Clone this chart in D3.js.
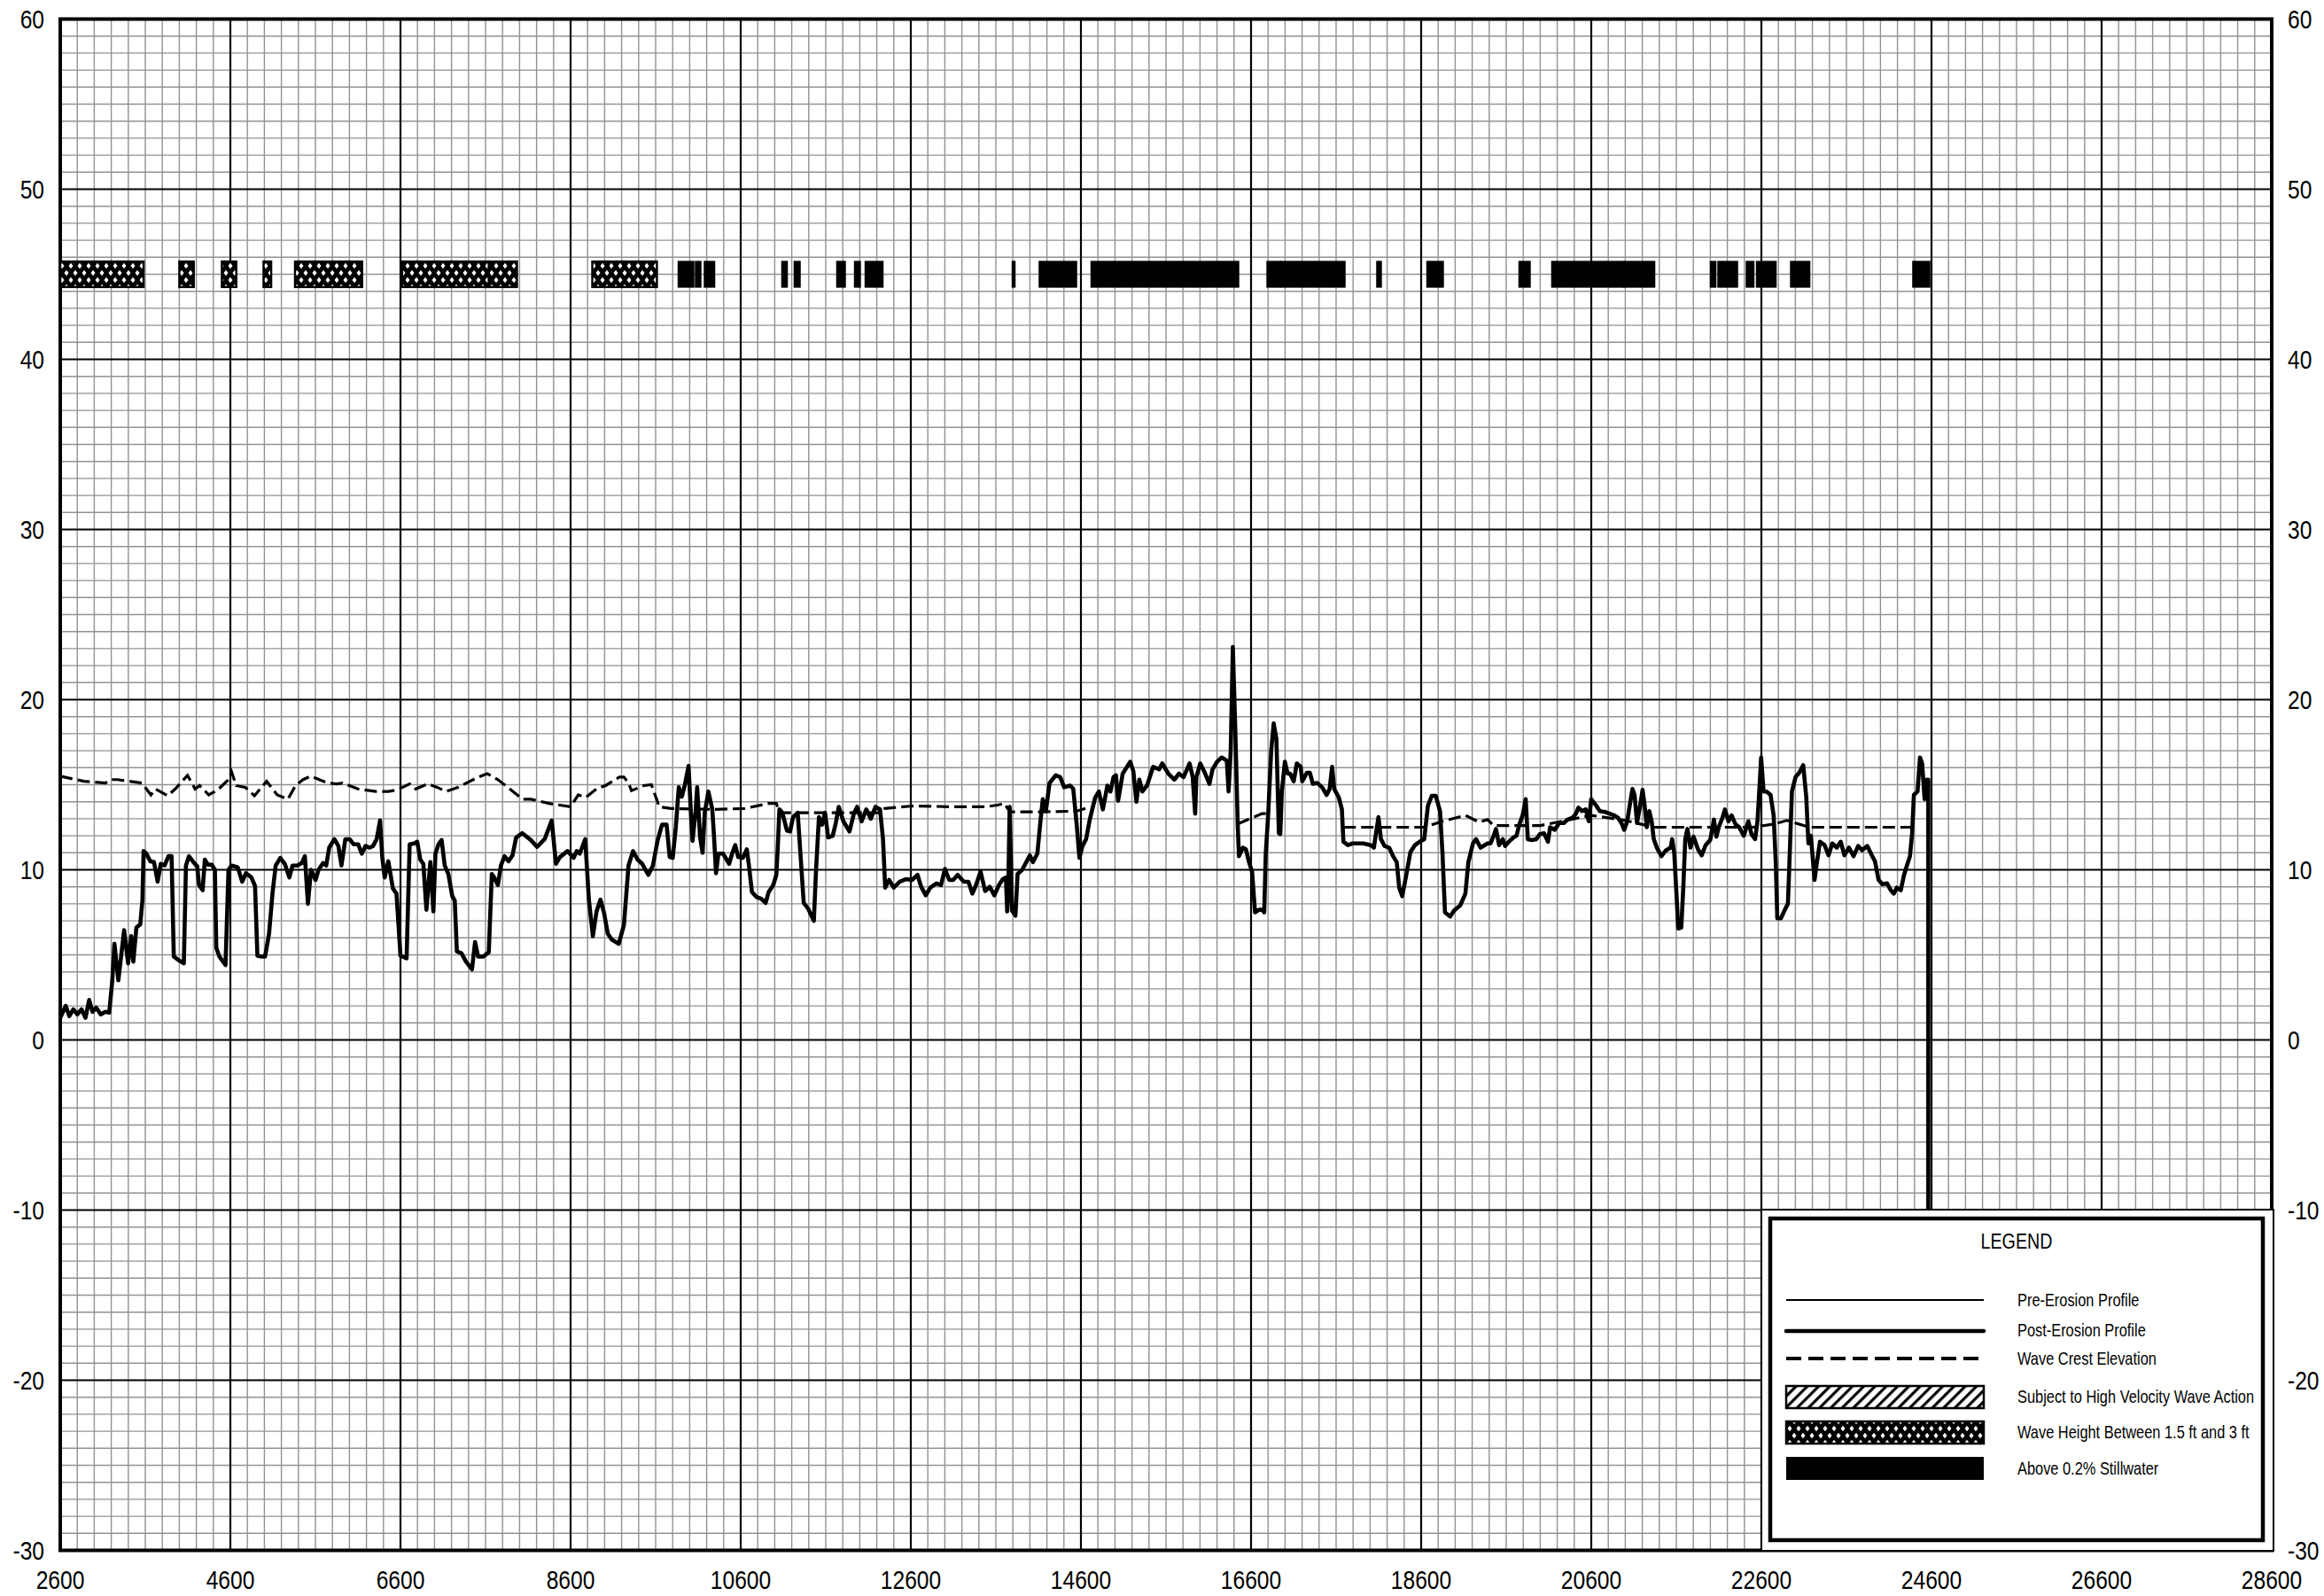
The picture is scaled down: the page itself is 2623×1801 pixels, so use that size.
<!DOCTYPE html>
<html><head><meta charset="utf-8">
<script src="https://cdn.jsdelivr.net/npm/d3@7"></script>
<style>html,body{margin:0;padding:0;background:#fff;}</style>
</head><body>
<script>
// ---------- DATA ----------
const xTicks = [2600,4600,6600,8600,10600,12600,14600,16600,18600,20600,22600,24600,26600,28600];
const yTicks = [-30,-20,-10,0,10,20,30,40,50,60];

// Post-erosion profile [station, elevation]
const postErosion = [[2600,1.3],[2664,2.0],[2707,1.4],[2754,1.8],[2800,1.5],[2850,1.8],[2897,1.3],[2940,2.35],[2980,1.65],[3022,1.9],[3076,1.5],[3130,1.65],[3176,1.6],[3212,3.5],[3237,5.65],[3283,3.5],[3351,6.45],[3398,4.5],[3434,6.1],[3459,4.6],[3495,6.6],[3541,6.8],[3566,8.2],[3580,11.1],[3612,10.95],[3659,10.5],[3702,10.45],[3745,9.3],[3781,10.35],[3827,10.25],[3873,10.8],[3909,10.8],[3935,4.9],[3988,4.7],[4053,4.5],[4078,10.25],[4113,10.8],[4174,10.4],[4210,10.2],[4232,9.1],[4274,8.8],[4300,10.6],[4335,10.3],[4382,10.3],[4418,10.0],[4435,5.4],[4471,4.9],[4543,4.4],[4578,10.0],[4615,10.25],[4686,10.15],[4740,9.3],[4783,9.8],[4847,9.55],[4890,9.05],[4918,4.95],[4972,4.9],[5008,4.9],[5055,6.25],[5097,8.7],[5133,10.25],[5187,10.7],[5240,10.35],[5294,9.55],[5330,10.25],[5387,10.25],[5441,10.4],[5476,10.8],[5512,8.0],[5548,10.0],[5602,9.4],[5637,10.0],[5691,10.4],[5727,10.25],[5762,11.3],[5823,11.8],[5870,11.4],[5906,10.25],[5952,11.8],[6002,11.8],[6048,11.5],[6102,11.5],[6145,10.95],[6190,11.4],[6238,11.3],[6278,11.4],[6320,11.8],[6360,12.9],[6385,10.8],[6414,9.55],[6457,10.5],[6511,8.9],[6553,8.6],[6600,4.95],[6672,4.8],[6708,11.5],[6762,11.55],[6797,11.65],[6833,10.6],[6869,10.35],[6905,7.65],[6951,10.45],[6987,7.55],[7011,10.95],[7048,11.5],[7084,11.75],[7120,10.25],[7163,9.75],[7209,8.45],[7238,8.2],[7263,5.2],[7316,5.1],[7370,4.6],[7441,4.15],[7477,5.75],[7513,4.9],[7574,4.9],[7638,5.15],[7674,9.75],[7702,9.55],[7745,9.1],[7781,10.25],[7824,10.8],[7870,10.5],[7917,10.85],[7960,11.9],[8032,12.15],[8132,11.75],
[8206,11.35],[8295,11.8],[8378,12.9],[8428,10.35],[8475,10.75],[8564,11.1],[8636,10.7],[8672,11.1],[8708,10.95],[8772,11.8],[8815,8.25],[8862,6.1],[8905,7.55],[8951,8.25],[8994,7.45],[9037,6.25],[9084,5.9],[9166,5.65],[9227,6.75],[9281,10.25],[9334,11.1],[9388,10.6],[9442,10.35],[9514,9.7],[9568,10.25],[9622,11.7],[9675,12.65],[9729,12.65],[9765,10.75],[9801,10.7],[9837,12.5],[9872,14.85],[9908,14.3],[9944,15.0],[9987,16.1],[10016,13.2],[10034,11.7],[10070,13.45],[10088,14.85],[10123,11.9],[10152,11.0],[10177,13.35],[10220,14.6],[10266,13.55],[10284,12.15],[10310,9.8],[10338,10.95],[10392,10.95],[10464,10.35],[10499,10.95],[10535,11.45],[10571,10.75],[10625,10.7],[10672,11.2],[10697,10.25],[10732,8.7],[10786,8.4],[10840,8.3],[10893,8.05],[10929,8.7],[10983,9.1],[11019,9.7],[11037,11.45],[11055,13.55],[11090,13.35],[11144,12.3],[11180,12.25],[11216,13.1],[11270,13.35],[11305,10.75],[11341,8.05],[11395,7.7],[11460,7.0],[11485,9.9],[11520,13.1],[11556,12.65],[11592,13.35],[11628,11.9],[11682,12.0],[11718,12.75],[11753,13.7],[11807,12.85],[11879,12.25],[11933,13.35],[11969,13.7],[12022,12.85],[12076,13.55],[12130,13.0],[12184,13.7],[12238,13.55],[12273,11.8],[12299,8.95],[12345,9.4],[12399,8.95],[12471,9.3],[12543,9.45],[12614,9.4],[12679,9.7],[12722,9.0],[12776,8.5],[12829,8.95],[12901,9.2],[12955,9.1],[13001,10.05],[13051,9.4],[13098,9.4],[13151,9.7],[13223,9.3],[13277,9.3],[13324,8.6],[13367,9.1],[13420,9.9],[13474,8.75],[13528,9.0],[13582,8.5],[13636,9.1],[13682,9.45],[13718,9.55],[13733,7.55],[13745,8.7],[13762,13.7],[13790,7.6],[13830,7.3],[13855,9.75],
[13909,10.0],[13963,10.5],[13999,10.85],[14035,10.45],[14088,10.95],[14124,12.85],[14152,14.15],[14188,13.45],[14231,15.1],[14303,15.55],[14356,15.45],[14403,14.85],[14474,14.95],[14510,14.75],[14553,12.5],[14582,10.7],[14618,11.4],[14661,11.8],[14704,12.95],[14768,14.25],[14811,14.6],[14858,13.55],[14911,14.95],[14947,14.6],[14983,15.45],[15012,15.55],[15037,14.05],[15091,15.65],[15180,16.35],[15216,15.8],[15252,14.0],[15287,15.3],[15323,14.6],[15377,14.95],[15449,16.05],[15520,15.9],[15556,16.25],[15628,15.65],[15699,15.3],[15753,15.65],[15807,15.45],[15878,16.25],[15914,15.45],[15943,13.3],[15957,15.45],[16003,16.25],[16057,15.7],[16111,15.05],[16147,15.9],[16200,16.35],[16254,16.6],[16290,16.5],[16315,16.4],[16336,14.6],[16361,17.0],[16386,23.1],[16415,18.25],[16443,12.7],[16458,10.8],[16504,11.3],[16540,11.2],[16576,10.45],[16612,9.9],[16647,7.5],[16694,7.65],[16730,7.65],[16755,7.5],[16773,10.95],[16801,13.2],[16837,17.0],[16866,18.6],[16898,17.7],[16927,12.15],[16944,12.1],[16962,14.6],[16998,16.35],[17030,15.65],[17059,15.65],[17102,15.2],[17138,16.25],[17184,16.05],[17202,15.2],[17256,15.7],[17292,15.7],[17327,15.05],[17381,15.1],[17435,14.85],[17489,14.4],[17524,14.75],[17553,16.05],[17578,14.75],[17632,14.25],[17668,13.55],[17686,11.65],[17739,11.45],[17793,11.55],[17847,11.55],[17919,11.55],[18008,11.45],[18044,11.3],[18098,13.1],[18127,11.8],[18170,11.4],[18224,11.3],[18270,10.8],[18313,10.45],[18342,8.95],[18377,8.45],[18420,9.55],[18474,11.05],[18528,11.45],[18582,11.65],[18636,11.8],[18679,13.75],[18725,14.35],[18772,14.35],[18822,13.45],[18851,10.95],[18880,7.5],[18941,7.25],[18987,7.6],[19059,7.9],[19120,8.6],[19155,10.45],[19209,11.55],[19245,11.8],[19299,11.3],[19381,11.55],
[19416,11.55],[19452,12.0],[19480,12.4],[19516,11.45],[19560,11.8],[19588,11.4],[19631,11.65],[19685,11.9],[19721,12.0],[19757,12.7],[19793,13.2],[19829,14.15],[19854,11.8],[19900,11.75],[19954,11.8],[19997,12.1],[20044,12.15],[20091,11.65],[20116,12.5],[20170,12.35],[20223,12.75],[20277,12.75],[20320,12.95],[20377,13.05],[20420,13.3],[20449,13.65],[20492,13.45],[20535,13.55],[20571,12.85],[20600,14.15],[20654,13.8],[20700,13.45],[20761,13.4],[20815,13.3],[20869,13.2],[20916,13.05],[20959,12.7],[20987,12.35],[21023,12.85],[21048,13.65],[21084,14.75],[21109,14.4],[21138,12.75],[21174,13.75],[21203,14.7],[21228,13.75],[21253,12.5],[21282,13.45],[21310,12.85],[21335,11.8],[21371,11.3],[21425,10.8],[21479,11.15],[21533,11.3],[21551,11.8],[21576,10.95],[21604,8.35],[21622,6.55],[21658,6.6],[21683,9.05],[21705,11.8],[21730,12.4],[21766,11.3],[21802,11.95],[21855,11.2],[21898,10.85],[21945,11.45],[21999,11.75],[22042,12.95],[22071,11.95],[22099,12.5],[22142,13.05],[22171,13.55],[22214,12.85],[22250,13.2],[22293,12.7],[22339,12.5],[22393,12.0],[22447,12.85],[22483,12.1],[22526,11.8],[22554,12.85],[22583,15.3],[22597,16.6],[22626,14.6],[22661,14.6],[22708,14.4],[22744,13.2],[22769,10.45],[22787,7.15],[22830,7.15],[22876,7.65],[22912,8.0],[22930,10.45],[22959,14.6],[23002,15.45],[23045,15.7],[23092,16.15],[23128,14.25],[23153,11.55],[23182,12.0],[23225,9.4],[23253,10.45],[23289,11.65],[23343,11.45],[23390,10.85],[23433,11.55],[23487,11.3],[23533,11.65],[23576,10.85],[23630,11.3],[23684,10.8],[23738,11.4],[23784,11.15],[23845,11.4],[23899,10.85],[23935,10.5],[23978,9.4],[24024,9.15],[24078,9.2],[24121,8.8],[24157,8.6],[24192,8.95],[24239,8.8],[24275,9.65],[24311,10.25],[24347,10.8],[24372,12.15],[24393,14.4],[24436,14.6],[24465,16.6],[24490,16.25],[24519,14.15],[24544,15.3],[24562,15.3],[24562,-30]];

// Wave crest elevation [station, elevation] (null = not shown)
const waveCrest = [[2600,15.5],[2879,15.2],[3130,15.1],[3201,15.3],[3273,15.3],[3416,15.2],[3559,15.1],[3666,14.4],[3720,14.75],[3863,14.35],[3952,14.75],[4096,15.55],[4185,14.75],[4239,14.95],[4346,14.4],[4453,14.7],[4578,15.3],[4615,15.75],[4668,14.95],[4775,14.85],[4883,14.35],[5026,15.2],[5151,14.4],[5276,14.15],[5366,14.95],[5455,15.3],[5544,15.5],[5741,15.1],[5848,15.05],[5920,15.1],[6099,14.75],[6314,14.6],[6457,14.6],[6564,14.7],[6708,15.05],[6779,14.75],[6922,15.05],[7030,14.85],[7137,14.6],[7280,14.85],[7495,15.4],[7620,15.65],[7745,15.3],[7924,14.6],[8032,14.15],[8134,14.15],[8349,13.9],[8600,13.7],[8690,14.4],[8779,14.25],[8905,14.75],[9012,14.95],[9173,15.45],[9227,15.45],[9281,15.1],[9316,14.65],[9460,14.95],[9550,15.0],[9622,14.0],[9640,13.7],[9783,13.6],[10284,13.55],[10643,13.6],[10929,13.9],[11019,13.9],[11055,13.35],[12220,13.35],[12292,13.6],[12614,13.75],[13151,13.7],[13474,13.7],[13618,13.8],[13700,13.9],[13766,13.4],[14124,13.4],[14553,13.45],[14715,13.7],[14716,null],[16443,null],[16444,12.7],[16730,13.3],[16800,13.3],[16801,null],[17685,null],[17686,12.5],[18636,12.5],[18851,12.85],[19120,13.2],[19281,12.8],[19381,12.95],[19450,12.6],[20000,12.6],[20600,13.2],[21000,12.9],[21335,12.5],[21750,12.5],[22500,12.5],[22760,12.7],[22900,12.9],[23164,12.5],[24366,12.5]];

// Hazard zone bars [start, end]
const waveHeightZones = [[2600,3580],[4000,4170],[4500,4670],[4990,5080],[5360,6150],[6620,7640],[7640,7970],[8855,9615]];
const stillwaterZones = [[9866,10048],[10069,10131],[10173,10293],[11084,11147],[11230,11298],[11730,11829],[11939,12006],[12064,12272],[13793,13824],[14110,14548],[14720,16454],[16788,16944],[16944,17704],[18079,18131],[18668,18860],[19751,19881],[20136,20985],[20985,21345],[22001,22064],[22090,22319],[22423,22511],[22543,22772],[22944,23168],[24381,24579]];
const zoneBand = [44.25, 45.75];

const legendItems = ["Pre-Erosion Profile","Post-Erosion Profile","Wave Crest Elevation","Subject to High Velocity Wave Action","Wave Height Between 1.5 ft and 3 ft","Above 0.2% Stillwater"];

// ---------- DRAW ----------
const W = 2623, H = 1801;
const FONT = "'Liberation Sans Narrow','Arial Narrow','Liberation Sans',Arial,sans-serif";
const NARROW = 0.82;
const x = d3.scaleLinear().domain([2600, 28600]).range([68, 2564]);
const y = d3.scaleLinear().domain([-30, 60]).range([1749.5, 21.5]);

const svg = d3.select("body").append("svg").attr("width", W).attr("height", H)
  .style("background", "#fff");

const defs = svg.append("defs");
// cross-hatch: black with white diamonds
const ch = defs.append("pattern").attr("id","cross").attr("patternUnits","userSpaceOnUse")
  .attr("width",10).attr("height",16);
ch.append("rect").attr("width",10).attr("height",16).attr("fill","#000");
const dia = (cx,cy)=>`M${cx},${cy-3.2}L${cx+2.5},${cy}L${cx},${cy+3.2}L${cx-2.5},${cy}Z`;
ch.append("path").attr("fill","#fff").attr("d", dia(5,4)+dia(0,12)+dia(10,12));
// diagonal hatch
const dh = defs.append("pattern").attr("id","diag").attr("patternUnits","userSpaceOnUse")
  .attr("width",9).attr("height",9).attr("patternTransform","rotate(45)");
dh.append("rect").attr("width",9).attr("height",9).attr("fill","#fff");
dh.append("rect").attr("width",3.2).attr("height",9).attr("fill","#000");

// grid
const g = svg.append("g");
const minorX = d3.range(2600, 28601, 200), minorY = d3.range(-30, 61, 1);
g.selectAll(".mx").data(minorX.filter(v => (v-2600) % 2000 !== 0)).join("line")
  .attr("x1", d=>x(d)).attr("x2", d=>x(d)).attr("y1", y(60)).attr("y2", y(-30))
  .attr("stroke","#929292").attr("stroke-width",1.4);
g.selectAll(".my").data(minorY.filter(v => v % 10 !== 0)).join("line")
  .attr("y1", d=>y(d)).attr("y2", d=>y(d)).attr("x1", x(2600)).attr("x2", x(28600))
  .attr("stroke","#929292").attr("stroke-width",1.4);
g.selectAll(".Mx").data(xTicks).join("line")
  .attr("x1", d=>x(d)).attr("x2", d=>x(d)).attr("y1", y(60)).attr("y2", y(-30))
  .attr("stroke","#000").attr("stroke-width",2.2);
g.selectAll(".My").data(yTicks).join("line")
  .attr("y1", d=>y(d)).attr("y2", d=>y(d)).attr("x1", x(2600)).attr("x2", x(28600))
  .attr("stroke","#000").attr("stroke-width",2.2);
svg.append("rect").attr("x", x(2600)).attr("y", y(60))
  .attr("width", x(28600)-x(2600)).attr("height", y(-30)-y(60))
  .attr("fill","none").attr("stroke","#000").attr("stroke-width",4);

// zone bars
svg.append("g").selectAll("rect").data(waveHeightZones).join("rect")
  .attr("x", d=>x(d[0])).attr("width", d=>x(d[1])-x(d[0]))
  .attr("y", y(zoneBand[1])).attr("height", y(zoneBand[0])-y(zoneBand[1]))
  .attr("fill","url(#cross)").attr("stroke","#000").attr("stroke-width",2.4);
svg.append("g").selectAll("rect").data(stillwaterZones).join("rect")
  .attr("x", d=>x(d[0])).attr("width", d=>x(d[1])-x(d[0]))
  .attr("y", y(zoneBand[1])).attr("height", y(zoneBand[0])-y(zoneBand[1]))
  .attr("fill","#000").attr("stroke","#000").attr("stroke-width",1.5);

// lines
const line = d3.line().defined(d => d[1] != null).x(d=>x(d[0])).y(d=>y(d[1]));
svg.append("path").datum(waveCrest).attr("d", line).attr("fill","none")
  .attr("stroke","#000").attr("stroke-width",3.2).attr("stroke-dasharray","14,6");
svg.append("path").datum(postErosion).attr("d", line).attr("fill","none")
  .attr("stroke","#000").attr("stroke-width",4.6).attr("stroke-linejoin","round");

// axis labels (condensed look via horizontal scale)
const lab = svg.append("g").attr("font-family", FONT).attr("font-size", 30).attr("fill","#000");
lab.selectAll(".yl").data(yTicks).join("text")
  .attr("transform", d=>`translate(50,${y(d)}) scale(${NARROW},1)`)
  .attr("text-anchor","end").attr("dominant-baseline","central").text(d=>d);
lab.selectAll(".yr").data(yTicks).join("text")
  .attr("transform", d=>`translate(2582,${y(d)}) scale(${NARROW},1)`)
  .attr("text-anchor","start").attr("dominant-baseline","central").text(d=>d);
lab.selectAll(".xl").data(xTicks).join("text")
  .attr("transform", d=>`translate(${x(d)},1793) scale(${NARROW},1)`)
  .attr("text-anchor","middle").text(d=>d);

// legend
const lg = svg.append("g");
lg.append("rect").attr("x",1988).attr("y",1365).attr("width",578).attr("height",385)
  .attr("fill","#fff").attr("stroke","#000").attr("stroke-width",2);
lg.append("rect").attr("x",1998).attr("y",1375).attr("width",556).attr("height",363)
  .attr("fill","#fff").attr("stroke","#000").attr("stroke-width",4.5);
lg.append("text").attr("transform",`translate(2276,1409) scale(${NARROW},1)`).attr("text-anchor","middle")
  .attr("font-family",FONT).attr("font-size",24).text("LEGEND");
const lx0 = 2016, lx1 = 2239, tx = 2277;
lg.append("line").attr("x1",lx0).attr("x2",lx1).attr("y1",1467).attr("y2",1467).attr("stroke","#000").attr("stroke-width",2);
lg.append("line").attr("x1",lx0).attr("x2",lx1).attr("y1",1502).attr("y2",1502).attr("stroke","#000").attr("stroke-width",4.5).attr("stroke-linecap","round");
lg.append("line").attr("x1",lx0).attr("x2",lx1).attr("y1",1533).attr("y2",1533).attr("stroke","#000").attr("stroke-width",4).attr("stroke-dasharray","17,8");
lg.append("rect").attr("x",lx0).attr("y",1564).attr("width",lx1-lx0).attr("height",25).attr("fill","url(#diag)").attr("stroke","#000").attr("stroke-width",2.5);
lg.append("rect").attr("x",lx0).attr("y",1604).attr("width",lx1-lx0).attr("height",25).attr("fill","url(#cross)").attr("stroke","#000").attr("stroke-width",2.5);
lg.append("rect").attr("x",lx0).attr("y",1644).attr("width",lx1-lx0).attr("height",26).attr("fill","#000");
const textY = [1474,1508,1540,1583,1623,1664];
lg.selectAll(".lt").data(legendItems).join("text")
  .attr("transform",(d,i)=>`translate(${tx},${textY[i]}) scale(${NARROW},1)`)
  .attr("font-family",FONT).attr("font-size",20).text(d=>d);
</script>
</body></html>
